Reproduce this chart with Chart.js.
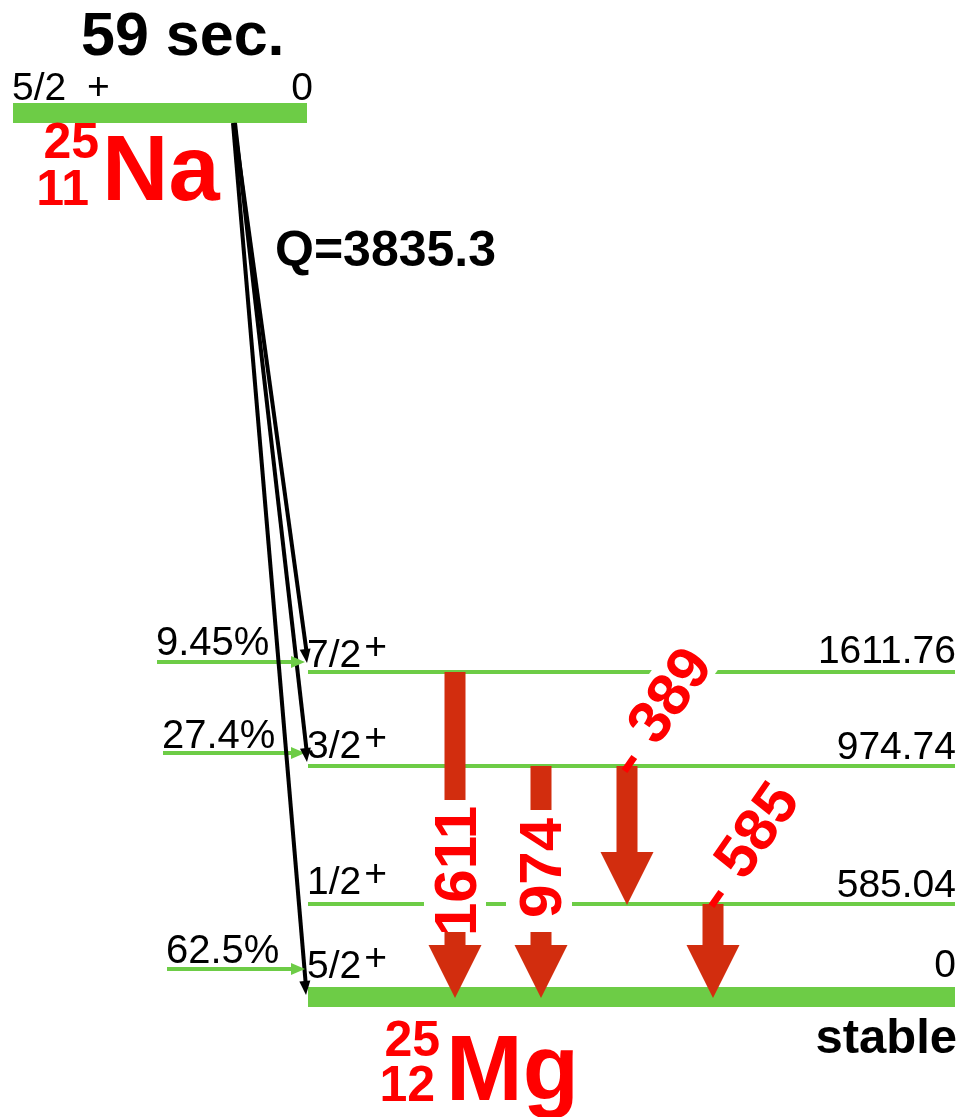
<!DOCTYPE html>
<html>
<head>
<meta charset="utf-8">
<script src="https://cdn.jsdelivr.net/npm/chart.js@4.4.1/dist/chart.umd.min.js"></script>
<style>
  html, body { margin: 0; padding: 0; background: #ffffff; }
  canvas { display: block; }
</style>
</head>
<body>
<canvas id="scheme" width="962" height="1117"></canvas>
<script>
// ---- Decay data: 25Na (beta-minus) -> 25Mg ----
const parentSymbol = 'Na';
const parentMass = '25';
const parentCharge = '11';
const parentHalfLife = '59 sec.';
const parentSpin = '5/2';
const parentParity = '+';
const parentLevelLabel = '0';
const qValue = 3835.3;

const daughterSymbol = 'Mg';
const daughterMass = '25';
const daughterCharge = '12';
const daughterStatus = 'stable';

// daughter levels (keV), spins and parities
const levelEnergies = [0, 585.04, 974.74, 1611.76];
const levelSpins = ['5/2', '1/2', '3/2', '7/2'];
const levelParities = ['+', '+', '+', '+'];

// beta branches: fed level and intensity (%)
const betaLevels = [1611.76, 974.74, 0];
const betaIntensities = [9.45, 27.4, 62.5];

// gamma transitions (keV)
const gammaFrom = [1611.76, 974.74, 974.74, 585.04];
const gammaTo = [0, 0, 585.04, 0];
const gammaLabels = ['1611', '974', '389', '585'];

// ---- drawing layout (canvas units) ----
const GREEN = '#6DCC46';
const GAMMA = '#D22D0E';
const RED = '#FF0000';
const INK = '#000000';
const FONT = "'Liberation Sans', Arial, Helvetica, sans-serif";

const layout = {
  parentRowY: 113, parentX0: 13, parentX1: 307, parentWidth: 20,
  levelRowY: [997, 904, 766, 672],
  levelWidth: [20, 4, 4, 4],
  levelX0: 308, levelX1: 955,
  betaStartX: [234, 235, 233], betaStartY: 123,
  betaEndX: [307, 307, 306], betaEndY: [663, 762, 995],
  feedY: [662, 753, 969], feedX0: [157, 163, 167], feedX1: 305,
  gammaX: [455, 541, 627, 713],
  gammaLabelPos: [[455, 871], [540, 868], [668, 694], [755, 829]],
  gammaLabelBox: [[455, 866, 66, 31], [539, 871, 61, 33], [668, 694, 50, 27], [755, 829, 50, 27]],
  gammaLabelAngle: [-90, -90, -55, -55],
  gammaDash: [false, false, true, true]
};

const rowOf = e => layout.levelRowY[levelEnergies.indexOf(e)];

// ---- datasets: level lines, feeding arrows, beta transitions ----
const datasets = [];
datasets.push({
  data: [{ x: layout.parentX0, y: layout.parentRowY }, { x: layout.parentX1, y: layout.parentRowY }],
  borderColor: GREEN, borderWidth: layout.parentWidth, order: 3
});
levelEnergies.forEach((e, i) => {
  datasets.push({
    data: [{ x: layout.levelX0, y: layout.levelRowY[i] }, { x: layout.levelX1, y: layout.levelRowY[i] }],
    borderColor: GREEN, borderWidth: layout.levelWidth[i], order: 3
  });
});
betaLevels.forEach((e, i) => {
  datasets.push({
    data: [{ x: layout.feedX0[i], y: layout.feedY[i] }, { x: layout.feedX1 - 10, y: layout.feedY[i] }],
    borderColor: GREEN, borderWidth: 4, order: 2
  });
  datasets.push({
    data: [{ x: layout.betaStartX[i], y: layout.betaStartY }, { x: layout.betaEndX[i], y: layout.betaEndY[i] - 8 }],
    borderColor: INK, borderWidth: 4, order: 1
  });
});
datasets.forEach(d => Object.assign(d, { pointRadius: 0, tension: 0, clip: false, borderCapStyle: 'butt' }));

function font(size, bold) { return (bold ? 'bold ' : '') + size + 'px ' + FONT; }

function text(ctx, str, x, y, size, bold, color, align) {
  ctx.font = font(size, bold);
  ctx.fillStyle = color;
  ctx.textAlign = align || 'left';
  ctx.textBaseline = 'alphabetic';
  ctx.fillText(str, x, y);
}

function headTo(ctx, tipX, tipY, fromX, fromY, len, width, color) {
  const a = Math.atan2(tipY - fromY, tipX - fromX);
  const bx = tipX - len * Math.cos(a), by = tipY - len * Math.sin(a);
  const nx = -Math.sin(a) * width / 2, ny = Math.cos(a) * width / 2;
  ctx.beginPath();
  ctx.moveTo(tipX, tipY);
  ctx.lineTo(bx + nx, by + ny);
  ctx.lineTo(bx - nx, by - ny);
  ctx.closePath();
  ctx.fillStyle = color;
  ctx.fill();
}

const schemePlugin = {
  id: 'decayScheme',
  afterDatasetsDraw(chart) {
    const ctx = chart.ctx;
    const sx = v => chart.scales.x.getPixelForValue(v);
    const sy = v => chart.scales.y.getPixelForValue(v);
    ctx.save();

    // heads of feeding arrows and beta transitions
    betaLevels.forEach((e, i) => {
      headTo(ctx, sx(layout.feedX1), sy(layout.feedY[i]), sx(layout.feedX0[i]), sy(layout.feedY[i]), 14, 12, GREEN);
      headTo(ctx, sx(layout.betaEndX[i]), sy(layout.betaEndY[i]), sx(layout.betaStartX[i]), sy(layout.betaStartY), 14, 11, INK);
    });

    // gamma arrows
    gammaFrom.forEach((e, i) => {
      const x = sx(layout.gammaX[i]);
      const yTop = sy(rowOf(e));
      const yTip = sy(rowOf(gammaTo[i])) + 1;
      const headL = 53, headW = 53, shaftW = 21;
      const yHead = yTip - headL;
      ctx.beginPath();
      ctx.moveTo(x - shaftW / 2, yTop);
      ctx.lineTo(x + shaftW / 2, yTop);
      ctx.lineTo(x + shaftW / 2, yHead);
      ctx.lineTo(x + headW / 2, yHead);
      ctx.lineTo(x, yTip);
      ctx.lineTo(x - headW / 2, yHead);
      ctx.lineTo(x - shaftW / 2, yHead);
      ctx.closePath();
      ctx.fillStyle = GAMMA;
      ctx.fill();
    });

    // gamma energy labels on white boxes
    gammaLabels.forEach((lab, i) => {
      const [bx, by, hl, hh] = layout.gammaLabelBox[i];
      const [tx, ty] = layout.gammaLabelPos[i];
      const ang = layout.gammaLabelAngle[i] * Math.PI / 180;
      ctx.save();
      ctx.translate(sx(bx), sy(by));
      ctx.rotate(ang);
      ctx.fillStyle = '#ffffff';
      ctx.fillRect(-hl, -hh, 2 * hl, 2 * hh);
      ctx.restore();

      ctx.save();
      ctx.translate(sx(tx), sy(ty));
      ctx.rotate(ang);
      ctx.font = font(60, true);
      ctx.fillStyle = RED;
      ctx.textAlign = 'center';
      ctx.textBaseline = 'alphabetic';
      ctx.fillText(lab, 0, 0.358 * 60);
      if (layout.gammaDash[i]) {
        ctx.fillRect(-88, 5, 17, 7);
      }
      ctx.restore();
    });

    // parent level texts
    text(ctx, parentHalfLife, 81, 55, 61, true, INK);
    text(ctx, parentSpin, 12, 100, 39, false, INK);
    text(ctx, parentParity, 87, 99, 39, false, INK);
    text(ctx, parentLevelLabel, 313, 100, 39, false, INK, 'right');
    text(ctx, parentMass, 99, 158, 50, true, RED, 'right');
    text(ctx, parentCharge, 89, 205, 50, true, RED, 'right');
    text(ctx, parentSymbol, 102, 200, 92, true, RED);
    text(ctx, 'Q=' + qValue.toFixed(1), 275, 266, 50, true, INK);

    // daughter levels: spin/parity on the left, energy on the right
    const spinBase = [978, 894, 758, 667];
    const energyBase = [977, 897, 759, 663];
    levelEnergies.forEach((e, i) => {
      const y0 = spinBase[i];
      ctx.font = font(39, false);
      const w = ctx.measureText(levelSpins[i]).width;
      text(ctx, levelSpins[i], 307, y0, 39, false, INK);
      text(ctx, levelParities[i], 307 + w + 3, y0 - 8, 39, false, INK);
      const lab = e === 0 ? '0' : e.toFixed(2);
      text(ctx, lab, 956, energyBase[i], 39, false, INK, 'right');
    });

    // beta branch intensities
    const pctBase = [655, 748, 963];
    betaIntensities.forEach((v, i) => {
      text(ctx, v + '%', layout.feedX0[i] - 1, pctBase[i], 40, false, INK);
    });

    // daughter nuclide
    text(ctx, daughterMass, 440, 1056, 50, true, RED, 'right');
    text(ctx, daughterCharge, 435, 1101, 50, true, RED, 'right');
    text(ctx, daughterSymbol, 446, 1100, 92, true, RED);
    text(ctx, daughterStatus, 957, 1053, 49, true, INK, 'right');

    ctx.restore();
  }
};

new Chart(document.getElementById('scheme'), {
  type: 'line',
  data: { datasets },
  options: {
    responsive: false,
    devicePixelRatio: 1,
    animation: false,
    events: [],
    layout: { padding: 0 },
    plugins: { legend: { display: false }, tooltip: { enabled: false } },
    scales: {
      x: { type: 'linear', min: 0, max: 962, display: false },
      y: { type: 'linear', min: 0, max: 1117, reverse: true, display: false }
    }
  },
  plugins: [schemePlugin]
});
</script>
</body>
</html>
